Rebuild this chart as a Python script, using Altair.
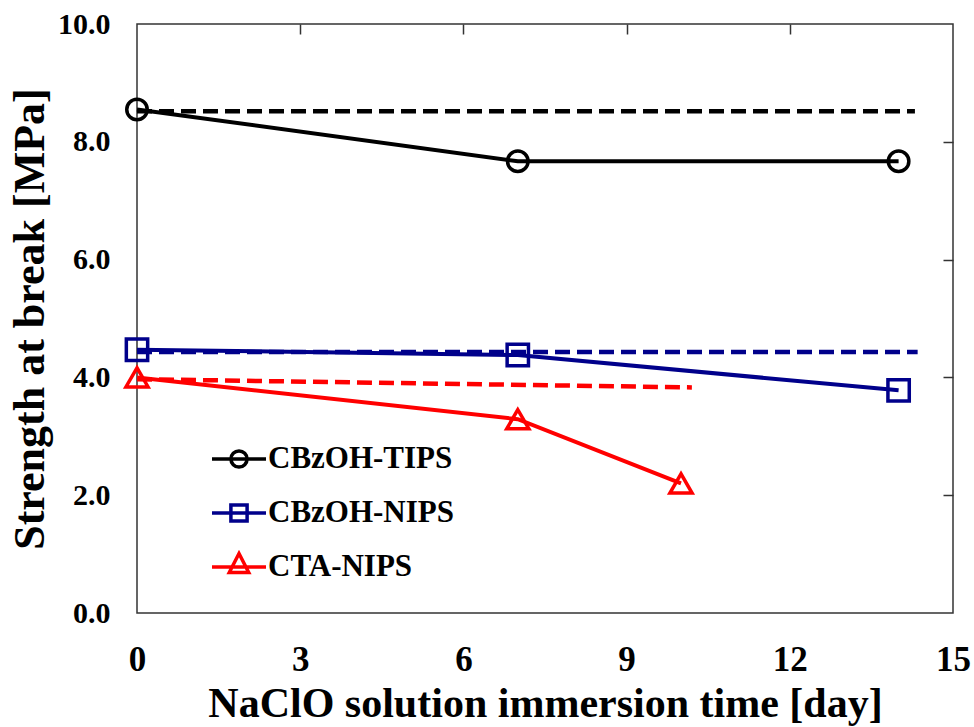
import altair as alt
import pandas as pd

# ---- data ----
series_names = ["CBzOH-TIPS", "CBzOH-NIPS", "CTA-NIPS"]
series_colors = ["#000000", "#00008B", "#FF0000"]

tips_days = [0, 7, 14]
tips_strength = [8.55, 7.67, 7.67]
nips_days = [0, 7, 14]
nips_strength = [4.47, 4.38, 3.78]
cta_days = [0, 7, 10]
cta_strength = [4.00, 3.29, 2.20]

# dashed reference (trend) lines: start / end
tips_ref_days = [0, 14.3]
tips_ref_strength = [8.52, 8.52]
nips_ref_days = [0, 14.35]
nips_ref_strength = [4.43, 4.43]
cta_ref_days = [0, 10.2]
cta_ref_strength = [3.97, 3.83]

x_label_values = [0, 3, 6, 9, 12, 15]
y_label_values = [0, 2, 4, 6, 8, 10]
x_tick_values = [3, 6, 9, 12]
y_tick_values = [2, 4, 6, 8]

# ---- tables ----
def table(name, days, vals):
    return pd.DataFrame({"series": name, "day": days, "strength": vals})

pts = pd.concat([
    table(series_names[0], tips_days, tips_strength),
    table(series_names[1], nips_days, nips_strength),
    table(series_names[2], cta_days, cta_strength),
], ignore_index=True)
refs = pd.concat([
    table(series_names[0], tips_ref_days, tips_ref_strength),
    table(series_names[1], nips_ref_days, nips_ref_strength),
    table(series_names[2], cta_ref_days, cta_ref_strength),
], ignore_index=True)

FONT = "Liberation Serif"
xscale = alt.Scale(domain=[0, 15], nice=False, zero=False)
yscale = alt.Scale(domain=[0, 10], nice=False, zero=False)
cscale = alt.Scale(domain=series_names, range=series_colors)

label_x_axis = alt.Axis(values=x_label_values, format="d", title="NaClO solution immersion time [day]",
                        ticks=False, tickSize=0, domain=False, grid=False, labelPadding=29,
                        labelFlush=False, labelFontSize=35, titleFontSize=42,
                        titleBaseline="alphabetic", titleY=103)
label_y_axis = alt.Axis(values=y_label_values, format=".1f", title="Strength at break [MPa]",
                        ticks=False, tickSize=0, domain=False, grid=False, labelPadding=27,
                        labelFlush=False, titlePadding=5, labelFontSize=30, titleFontSize=44)
tick_x_axis = alt.Axis(values=x_tick_values, labels=False, title=None, domain=False, grid=False,
                       ticks=True, tickSize=10, offset=-10)
tick_y_axis = alt.Axis(values=y_tick_values, labels=False, title=None, domain=False, grid=False,
                       ticks=True, tickSize=10, offset=-10)

ref_layer = alt.Chart(refs).mark_line(strokeDash=[15, 7], strokeWidth=4.5).encode(
    x=alt.X("day:Q", scale=xscale, axis=label_x_axis),
    y=alt.Y("strength:Q", scale=yscale, axis=label_y_axis),
    color=alt.Color("series:N", scale=cscale, legend=None),
    order="day:Q",
)

line_layer = alt.Chart(pts).mark_line(strokeWidth=4).encode(
    x=alt.X("day:Q", scale=xscale, axis=tick_x_axis),
    y=alt.Y("strength:Q", scale=yscale, axis=tick_y_axis),
    color=alt.Color("series:N", scale=cscale, legend=None),
    order="day:Q",
)

point_layer = alt.Chart(pts).mark_point(filled=False, strokeWidth=3.5, opacity=1).encode(
    x=alt.X("day:Q", scale=xscale, axis=None),
    y=alt.Y("strength:Q", scale=yscale, axis=None),
    color=alt.Color("series:N", scale=cscale, legend=None),
    shape=alt.Shape("series:N", scale=alt.Scale(domain=series_names,
                                                 range=["circle", "square", "triangle-up"]), legend=None),
    size=alt.Size("series:N", scale=alt.Scale(domain=series_names, range=[420, 490, 560]), legend=None),
)

legend_paths = [
    "M-1,0H1M-0.3,0A0.3,0.3,0,1,0,0.3,0A0.3,0.3,0,1,0,-0.3,0Z",
    "M-1,0H1M-0.3,-0.3H0.3V0.3H-0.3Z",
    "M-1,0H1M0,-0.5L0.36,0.2L-0.36,0.2Z",
]
legend_def = alt.Legend(
    title=None, orient="none", legendX=73, legendY=406, padding=0,
    symbolSize=2916, symbolStrokeWidth=3.5, labelFont=FONT, labelFontSize=31,
    labelFontWeight="bold", labelColor="#000000", labelOffset=0, rowPadding=9,
    labelLimit=0, symbolOpacity=1,
)
legend_layer = alt.Chart(pts).mark_point(filled=False, size=0, strokeWidth=3.5).encode(
    x=alt.X("day:Q", scale=xscale, axis=None),
    y=alt.Y("strength:Q", scale=yscale, axis=None),
    color=alt.Color("series:N", scale=cscale, legend=legend_def),
    shape=alt.Shape("series:N", scale=alt.Scale(domain=series_names, range=legend_paths), legend=legend_def),
)

chart = alt.layer(ref_layer, line_layer, point_layer, legend_layer).resolve_scale(
    color="independent", shape="independent", size="independent"
).resolve_axis(
    x="independent", y="independent"
).properties(
    width=816, height=589,
    padding={"left": 137, "top": 24, "right": 21, "bottom": 114},
    autosize=alt.AutoSizeParams(type="none"),
    background="#ffffff",
).configure_view(
    stroke="#333333", strokeWidth=1.5
).configure_axis(
    labelFont=FONT, titleFont=FONT, labelFontWeight="bold", titleFontWeight="bold",
    labelColor="#000000", titleColor="#000000", tickColor="#333333", tickWidth=1.5,
)

chart.save("out.html", embed_options={"renderer": "svg", "actions": False})
